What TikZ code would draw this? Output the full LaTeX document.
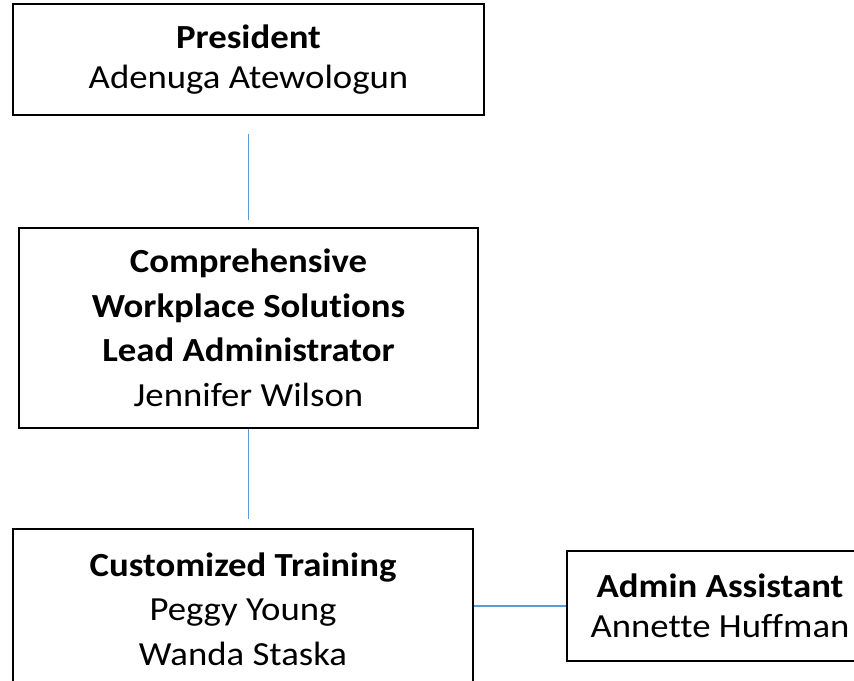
\documentclass[tikz,border=0pt]{standalone}
\usepackage{fontspec}
\setmainfont[Ligatures=NoCommon,FakeStretch=1.09]{Carlito}
\begin{document}
\begin{tikzpicture}[x=0.75pt,y=-0.75pt,
  orgbox/.style={draw=black,line width=1.5pt,inner sep=0pt,align=center},
  twoline/.style={font=\fontsize{25.3}{30}\selectfont},
  manyline/.style={font=\fontsize{25.3}{33.4}\selectfont},
  link/.style={draw=linkblue,line width=0.9pt}]
\definecolor{linkblue}{HTML}{5B9BD5}
\useasboundingbox (0,0) rectangle (854,681);
\clip (0,0) rectangle (854,681);
\node[orgbox,twoline,minimum width=353.25pt,minimum height=83.25pt] (pres) at (248.5,59.5)
  {\textbf{President}\\Adenuga Atewologun};
\node[orgbox,manyline,minimum width=344.25pt,minimum height=150pt] (cws) at (248.5,328)
  {\textbf{Comprehensive}\\\textbf{Workplace Solutions}\\\textbf{Lead Administrator}\\Jennifer Wilson};
\node[orgbox,manyline,minimum width=345pt,minimum height=120pt] (ct) at (243,609)
  {\textbf{Customized Training}\\Peggy Young\\Wanda Staska};
\node[orgbox,twoline,minimum width=229.5pt,minimum height=82.5pt] (aa) at (720,606)
  {\textbf{Admin Assistant}\\Annette Huffman};
\draw[link,shorten <=13.5pt,shorten >=5pt] (pres.south) -- (pres.south |- cws.north);
\draw[link,shorten >=6.75pt] (cws.south) -- (cws.south |- ct.north);
\draw[link] (ct.east |- aa.west) -- (aa.west);
\end{tikzpicture}
\end{document}
